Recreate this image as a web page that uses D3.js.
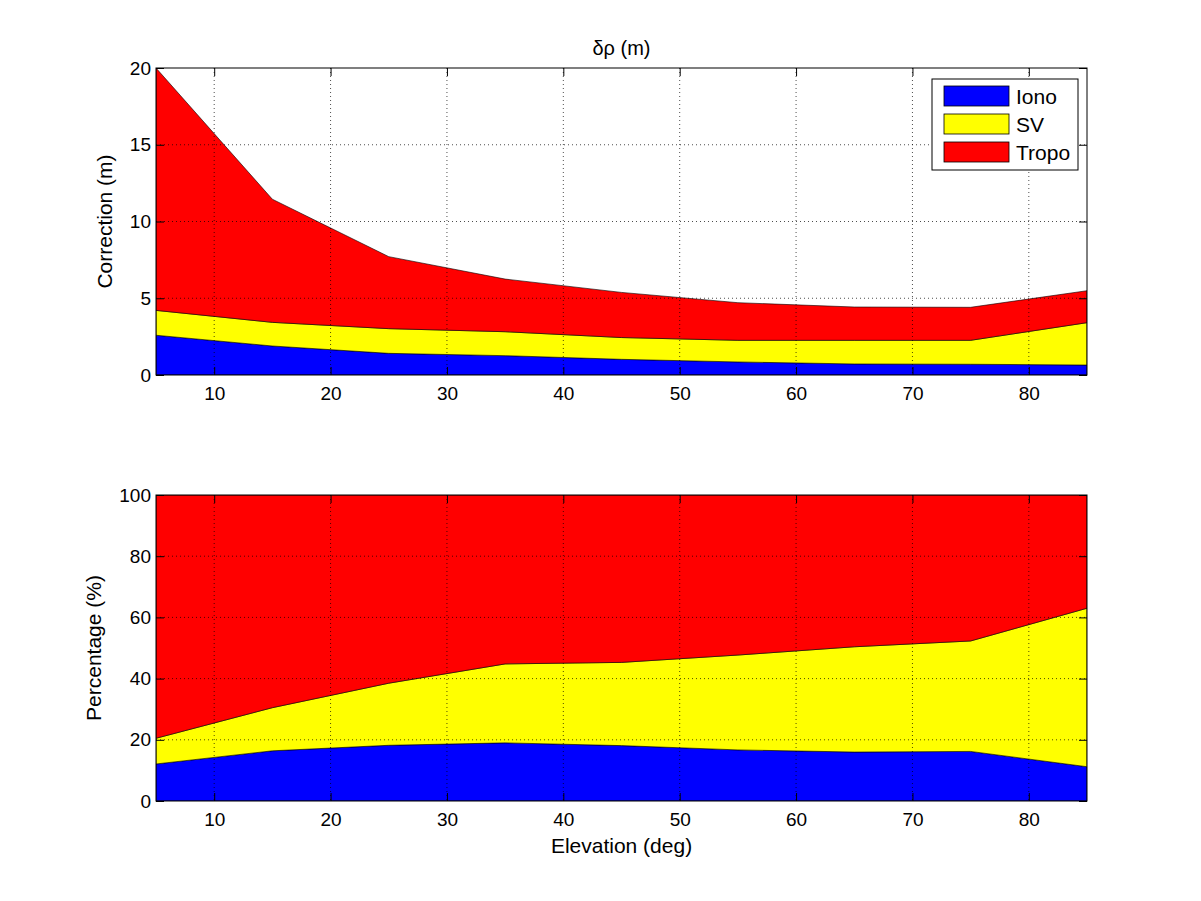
<!DOCTYPE html>
<html><head><meta charset="utf-8">
<script src="https://cdn.jsdelivr.net/npm/d3@7"></script>
<style>body{margin:0;background:#fff}text{font-family:"Liberation Sans",Arial,sans-serif}</style>
</head><body><svg id="c" width="1201" height="901"></svg>
<script>
const elevation = [5,15,25,35,45,55,65,75,85];
const iono  = [2.59,1.89,1.41,1.26,1.02,0.85,0.72,0.70,0.65];
const sv    = [1.62,1.54,1.61,1.56,1.42,1.41,1.54,1.56,2.76];
const tropo = [15.79,8.02,4.69,3.43,2.94,2.45,2.17,2.15,2.08];
const ionoPct = [12.1,16.4,18.2,19.0,18.1,16.7,16.0,16.2,11.2];
const svPct   = [8.4,14.1,20.3,25.8,27.2,31.0,34.4,36.1,51.8];
const tropoPct= [79.5,69.5,61.5,55.2,54.7,52.3,49.6,47.7,37.0];
const seriesNames = ["Iono","SV","Tropo"];
const seriesColors = ["#0000ff","#ffff00","#ff0000"];
const xTicks = [10,20,30,40,50,60,70,80];
const yTicksTop = [0,5,10,15,20];
const yTicksBot = [0,20,40,60,80,100];

const svg = d3.select("#c");
const L=156, R=1087;
const x = d3.scaleLinear().domain([5,85]).range([L,R]);

function panel(top,bottom,ymax,yticks,vals,ylabel,ylabelX){
  const y = d3.scaleLinear().domain([0,ymax]).range([bottom,top]);
  const g = svg.append("g");
  const rows = elevation.map((e,i)=>({e, Iono:vals[0][i], SV:vals[1][i], Tropo:vals[2][i]}));
  const stack = d3.stack().keys(seriesNames)(rows);
  const area = d3.area().x(d=>x(d.data.e)).y0(d=>y(d[0])).y1(d=>y(d[1]));
  g.append("defs").append("clipPath").attr("id","cp"+top).append("rect")
    .attr("x",L).attr("y",top).attr("width",R-L).attr("height",bottom-top);
  g.append("g").attr("clip-path",`url(#cp${top})`).selectAll("path").data(stack).join("path")
    .attr("d",area).attr("fill",(d,i)=>seriesColors[i]).attr("stroke","#000").attr("stroke-width",0.6);
  // grid
  const grid = g.append("g").attr("stroke","#000").attr("stroke-width",0.7).attr("stroke-dasharray","1,3");
  xTicks.forEach(t=>grid.append("line").attr("x1",x(t)).attr("x2",x(t)).attr("y1",top).attr("y2",bottom));
  yticks.slice(1,-1).forEach(t=>grid.append("line").attr("x1",L).attr("x2",R).attr("y1",y(t)).attr("y2",y(t)));
  // axes
  const tl=8;
  g.append("g").attr("transform",`translate(0,${bottom})`).call(d3.axisBottom(x).tickValues(xTicks).tickSizeInner(-tl).tickSizeOuter(0).tickPadding(12).tickFormat(d3.format("d")));
  g.append("g").attr("transform",`translate(0,${top})`).call(d3.axisTop(x).tickValues(xTicks).tickSizeInner(-tl).tickSizeOuter(0).tickFormat(""));
  g.append("g").attr("transform",`translate(${L},0)`).call(d3.axisLeft(y).tickValues(yticks).tickSizeInner(-tl).tickSizeOuter(0).tickPadding(5));
  g.append("g").attr("transform",`translate(${R},0)`).call(d3.axisRight(y).tickValues(yticks).tickSizeInner(-tl).tickSizeOuter(0).tickFormat(""));
  g.selectAll(".domain").remove();
  g.selectAll(".tick line").attr("stroke","#000").attr("stroke-width",1);
  g.selectAll(".tick text").attr("font-size",19).attr("fill","#000").style("font-family","'Liberation Sans',Arial,sans-serif");
  g.append("rect").attr("x",L).attr("y",top).attr("width",R-L).attr("height",bottom-top)
    .attr("fill","none").attr("stroke","#000").attr("stroke-width",1);
  g.append("text").attr("transform",`translate(${ylabelX},${(top+bottom)/2}) rotate(-90)`)
    .attr("text-anchor","middle").attr("font-size",21).text(ylabel);
  return {g,y};
}

panel(68,375,20,yTicksTop,[iono,sv,tropo],"Correction (m)",112);
panel(495,801,100,yTicksBot,[ionoPct,svPct,tropoPct],"Percentage (%)",101);

svg.append("text").attr("x",(L+R)/2).attr("y",55).attr("text-anchor","middle").attr("font-size",20).text("δρ (m)");
svg.append("text").attr("x",(L+R)/2).attr("y",853).attr("text-anchor","middle").attr("font-size",21).text("Elevation (deg)");

// legend
const lg = svg.append("g");
lg.append("rect").attr("x",932).attr("y",79).attr("width",146).attr("height",91).attr("fill","#fff").attr("stroke","#000").attr("stroke-width",1);
seriesNames.forEach((n,i)=>{
  const yy = 86 + i*28;
  lg.append("rect").attr("x",944).attr("y",yy).attr("width",65).attr("height",20).attr("fill",seriesColors[i]).attr("stroke","#000").attr("stroke-width",0.8);
  lg.append("text").attr("x",1016).attr("y",yy+18).attr("font-size",21).text(n);
});
</script></body></html>
